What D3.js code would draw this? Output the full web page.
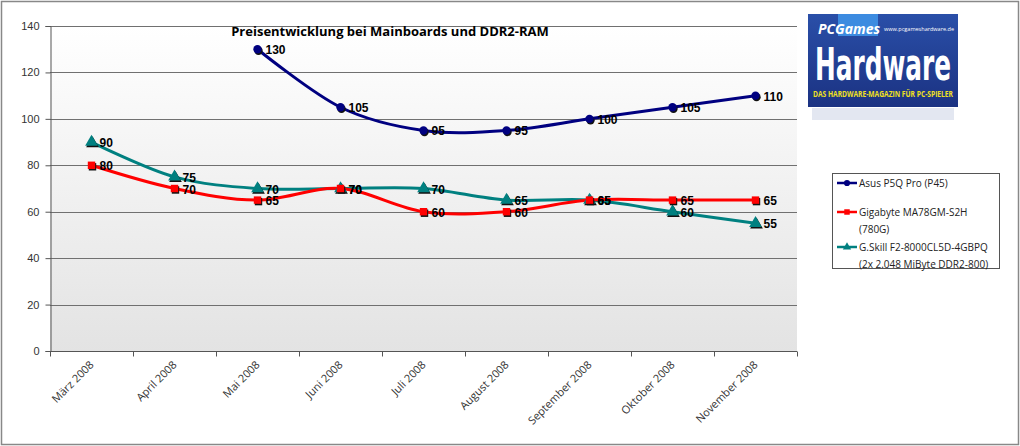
<!DOCTYPE html>
<head>
    <script src="https://d3js.org/d3.v7.min.js"></script>
</head>
<style>
body {
    margin: 0;
    font-family: "Open Sans", "Noto Sans", Arial, sans-serif;
    background: #fff;
}
</style>
<body>
<svg></svg>
<script>

    // Data
    var months = ["März 2008", "April 2008", "Mai 2008", "Juni 2008", "Juli 2008",
        "August 2008", "September 2008", "Oktober 2008", "November 2008"];
    var asus = [null, null, 130, 105, 95, 95, 100, 105, 110];
    var gigabyte = [80, 70, 65, 70, 60, 60, 65, 65, 65];
    var gskill = [90, 75, 70, 70, 70, 65, 65, 60, 55];
    var yTicks = [0, 20, 40, 60, 80, 100, 120, 140];

    var series = [
        { name: ["Asus P5Q Pro (P45)"], values: asus, color: "#000080", shape: d3.symbolCircle },
        { name: ["Gigabyte MA78GM-S2H", "(780G)"], values: gigabyte, color: "#ff0000", shape: d3.symbolSquare },
        { name: ["G.Skill F2-8000CL5D-4GBPQ", "(2x 2.048  MiByte DDR2-800)"], values: gskill, color: "#008080", shape: d3.symbolTriangle }
    ];

    var width = 1020, height = 446;
    var margin = { left: 50, right: 223, top: 26, bottom: 95 };

    var svg = d3.select('svg').attr('width', width).attr('height', height);

    var defs = svg.append('defs');
    var grad = defs.append('linearGradient').attr('id', 'bg')
        .attr('x1', 0).attr('y1', 0).attr('x2', 0).attr('y2', 1);
    grad.append('stop').attr('offset', '0%').attr('stop-color', '#ffffff');
    grad.append('stop').attr('offset', '100%').attr('stop-color', '#e3e3e3');

    // outer frame
    svg.append('rect').attr('x', 1.5).attr('y', 1.5).attr('width', width - 3).attr('height', height - 3)
        .attr('fill', '#fff').attr('stroke', '#888').attr('stroke-width', 1.5);

    var x = d3.scaleBand().domain(months).range([margin.left, width - margin.right]);
    var y = d3.scaleLinear().domain([0, 140]).range([height - margin.bottom, margin.top]);

    var g = svg.append('g');

    g.append('rect')
        .attr('x', margin.left).attr('y', y(140))
        .attr('width', x.range()[1] - margin.left).attr('height', y(0) - y(140))
        .attr('fill', 'url(#bg)');

    // gridlines
    g.selectAll('line.grid').data(yTicks.slice(1)).enter().append('line')
        .attr('class', 'grid')
        .attr('x1', margin.left).attr('x2', x.range()[1])
        .attr('y1', function (d) { return Math.round(y(d)) + 0.5; })
        .attr('y2', function (d) { return Math.round(y(d)) + 0.5; })
        .attr('stroke', '#707070').attr('stroke-width', 1);

    // y axis
    var yAxis = g.append('g')
        .attr('transform', 'translate(' + (margin.left + 0.5) + ',0)')
        .call(d3.axisLeft(y).tickValues(yTicks).tickSize(5).tickPadding(6));
    yAxis.select('.domain').attr('stroke', '#555');
    yAxis.selectAll('line').attr('stroke', '#555');
    yAxis.selectAll('text').style('font-size', '11px').attr('fill', '#333');

    // x axis
    var xAxisG = g.append('g').attr('transform', 'translate(0,' + (Math.round(y(0)) + 0.5) + ')');
    xAxisG.append('line').attr('x1', margin.left).attr('x2', x.range()[1]).attr('stroke', '#555');
    var boundaries = months.map(function (m) { return x(m); }).concat([x.range()[1]]);
    xAxisG.selectAll('line.tk').data(boundaries).enter().append('line')
        .attr('class', 'tk')
        .attr('x1', function (d) { return Math.round(d) + 0.5; })
        .attr('x2', function (d) { return Math.round(d) + 0.5; })
        .attr('y1', 0).attr('y2', 5).attr('stroke', '#555');
    xAxisG.selectAll('text').data(months).enter().append('text')
        .attr('transform', function (d) {
            return 'translate(' + (x(d) + x.bandwidth() / 2 + 3) + ',14)rotate(-45)';
        })
        .attr('text-anchor', 'end')
        .style('font-size', '11px').attr('fill', '#333')
        .text(function (d) { return d; });

    // title
    svg.append('text').attr('x', 390).attr('y', 36).attr('text-anchor', 'middle')
        .style('font-size', '13px').style('font-weight', 'bold')
        .text('Preisentwicklung bei Mainboards und DDR2-RAM');

    var cx = function (i) { return x(months[i]) + x.bandwidth() / 2; };

    var line = d3.line()
        .defined(function (d) { return d != null; })
        .x(function (d, i) { return cx(i); })
        .y(function (d) { return y(d); })
        .curve(d3.curveCatmullRom.alpha(0));

    // draw order: teal, red, navy on top
    [series[2], series[1], series[0]].forEach(function (s) {
        g.append('path').datum(s.values)
            .attr('d', line)
            .attr('fill', 'none').attr('stroke', s.color).attr('stroke-width', 3);
    });

    [series[2], series[1], series[0]].forEach(function (s) {
        var sym = d3.symbol().type(s.shape).size(s.shape === d3.symbolTriangle ? 70 : 55);
        var pts = s.values.map(function (v, i) { return { v: v, i: i }; })
            .filter(function (d) { return d.v != null; });
        // dark shadow
        g.selectAll(null).data(pts).enter().append('path')
            .attr('d', sym)
            .attr('transform', function (d) { return 'translate(' + (cx(d.i) + 1) + ',' + (y(d.v) + 1.5) + ')'; })
            .attr('fill', '#111');
        g.selectAll(null).data(pts).enter().append('path')
            .attr('d', sym)
            .attr('transform', function (d) { return 'translate(' + cx(d.i) + ',' + y(d.v) + ')'; })
            .attr('fill', s.color);
        g.selectAll(null).data(pts).enter().append('text')
            .attr('x', function (d) { return cx(d.i) + 8; })
            .attr('y', function (d) { return y(d.v) + 5; })
            .style('font-size', '12px').style('font-weight', 'bold')
            .style('font-family', 'Arial, "Liberation Sans", sans-serif')
            .text(function (d) { return d.v; });
    });

    // legend
    var leg = svg.append('g');
    leg.append('rect').attr('x', 832.5).attr('y', 173.5).attr('width', 167).attr('height', 95)
        .attr('fill', '#fff').attr('stroke', '#555');
    var legY = [183, 212, 247];
    series.forEach(function (s, k) {
        var ly = legY[k];
        leg.append('line').attr('x1', 837).attr('x2', 857).attr('y1', ly).attr('y2', ly)
            .attr('stroke', s.color).attr('stroke-width', 2.5);
        leg.append('path').attr('d', d3.symbol().type(s.shape).size(30))
            .attr('transform', 'translate(847,' + ly + ')').attr('fill', s.color);
        s.name.forEach(function (t, j) {
            leg.append('text').attr('x', 859).attr('y', ly + 4 + j * 17)
                .style('font-size', '10px').attr('fill', '#222').text(t);
        });
    });

    // logo
    var logo = svg.append('g').attr('transform', 'translate(808,14)');
    var lg = defs.append('linearGradient').attr('id', 'logobg')
        .attr('x1', 0).attr('y1', 0).attr('x2', 0).attr('y2', 1);
    lg.append('stop').attr('offset', '0%').attr('stop-color', '#2a4fa8');
    lg.append('stop').attr('offset', '100%').attr('stop-color', '#1b3282');
    logo.append('rect').attr('width', 150).attr('height', 93).attr('fill', 'url(#logobg)');
    logo.append('rect').attr('x', 30).attr('y', 0).attr('width', 40).attr('height', 22).attr('fill', '#3c8be0');
    logo.append('text').attr('x', 10).attr('y', 20).style('font-size', '14px').style('font-style', 'italic')
        .style('font-weight', 'bold').attr('fill', '#fff').text('PCGames');
    logo.append('text').attr('x', 76).attr('y', 17).style('font-size', '6px').attr('fill', '#fff')
        .attr('textLength', 70).attr('lengthAdjust', 'spacingAndGlyphs')
        .text('www.pcgameshardware.de');
    logo.append('text').attr('x', 75).attr('y', 66).attr('text-anchor', 'middle')
        .attr('textLength', 136).attr('lengthAdjust', 'spacingAndGlyphs')
        .style('font-size', '44px').style('font-weight', 'bold')
        .style('font-family', '"DejaVu Sans Condensed", "Liberation Sans Narrow", sans-serif')
        .attr('fill', '#fff').text('Hardware');
    logo.append('text').attr('x', 75).attr('y', 83).attr('text-anchor', 'middle')
        .attr('textLength', 140).attr('lengthAdjust', 'spacingAndGlyphs')
        .style('font-size', '8px').style('font-weight', 'bold').attr('fill', '#f0e020')
        .text('DAS HARDWARE-MAGAZIN FÜR PC-SPIELER');
    // reflection
    logo.append('rect').attr('x', 4).attr('y', 94).attr('width', 142).attr('height', 12)
        .attr('fill', '#c8d0e4').attr('opacity', 0.5);

</script>
</body>
